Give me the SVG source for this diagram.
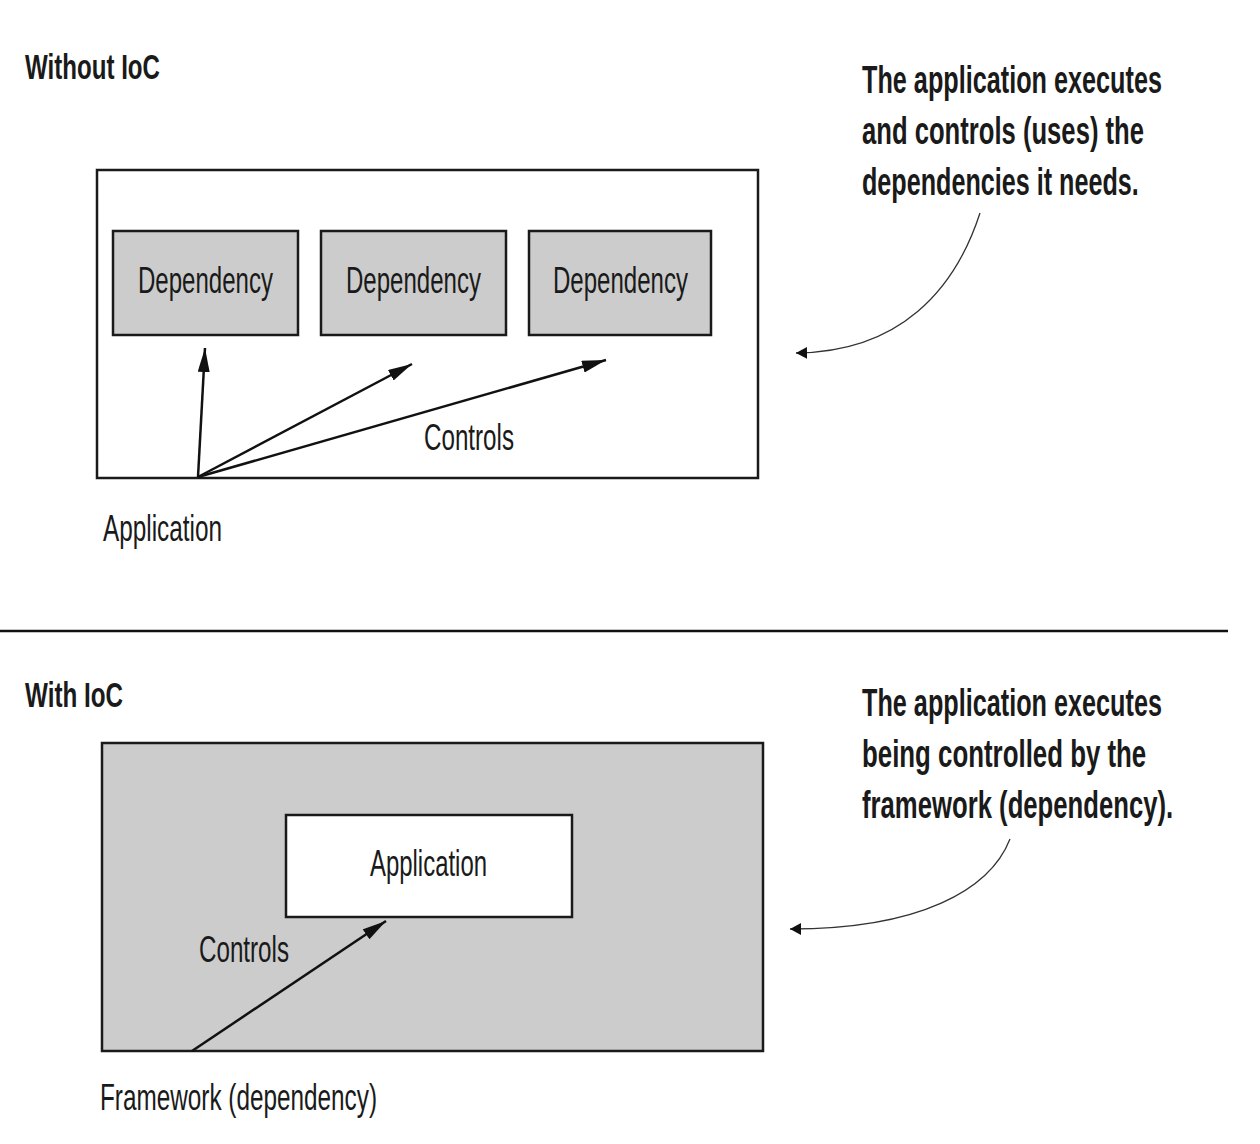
<svg xmlns="http://www.w3.org/2000/svg" width="1260" height="1144" viewBox="0 0 1260 1144">
<style>
.box{stroke:#1a1a1a;stroke-width:2.5}
.lbl{font-family:"Liberation Sans",Arial,sans-serif;font-size:37px;fill:#1a1a1a}
.hdr{font-family:"Liberation Sans",Arial,sans-serif;font-size:35px;font-weight:bold;fill:#1a1a1a}
.ann{font-family:"Liberation Sans",Arial,sans-serif;font-size:39px;font-weight:bold;fill:#1a1a1a}
.ctl{stroke:#111;stroke-width:2.5;fill:none}
.cur{stroke:#333;stroke-width:1.3;fill:none}
</style>
<defs>
<marker id="ah" markerUnits="userSpaceOnUse" markerWidth="26" markerHeight="14" refX="24" refY="6" orient="auto">
<path d="M0,0 L24,6 L0,12 Z" fill="#111"/>
</marker>
<marker id="ahs" markerUnits="userSpaceOnUse" markerWidth="14" markerHeight="14" refX="11" refY="6" orient="auto">
<path d="M0,0 L11,6 L0,12 Z" fill="#111"/>
</marker>
</defs>
<rect width="1260" height="1144" fill="#fff"/>

<text class="hdr" x="25" y="79" textLength="135" lengthAdjust="spacingAndGlyphs">Without IoC</text>

<g id="app-top">
<rect class="box" x="97" y="170" width="661" height="308" fill="#fff"/>
</g>
<g id="dep1">
<rect class="box" x="113" y="231" width="185" height="104" fill="#cccccc"/>
<text class="lbl" x="138" y="293" textLength="135" lengthAdjust="spacingAndGlyphs">Dependency</text>
</g>
<g id="dep2">
<rect class="box" x="321" y="231" width="185" height="104" fill="#cccccc"/>
<text class="lbl" x="346" y="293" textLength="135" lengthAdjust="spacingAndGlyphs">Dependency</text>
</g>
<g id="dep3">
<rect class="box" x="529" y="231" width="182" height="104" fill="#cccccc"/>
<text class="lbl" x="553" y="293" textLength="135" lengthAdjust="spacingAndGlyphs">Dependency</text>
</g>
<text class="lbl" x="424" y="450" textLength="90" lengthAdjust="spacingAndGlyphs">Controls</text>
<text class="lbl" x="103" y="541" textLength="119" lengthAdjust="spacingAndGlyphs">Application</text>

<g id="note-top" transform="translate(862,0) scale(0.75,1)">
<text class="ann" x="0" y="93" textLength="400" lengthAdjust="spacingAndGlyphs">The application executes</text>
<text class="ann" x="0" y="144" textLength="376" lengthAdjust="spacingAndGlyphs">and controls (uses) the</text>
<text class="ann" x="0" y="195" textLength="369" lengthAdjust="spacingAndGlyphs">dependencies it needs.</text>
</g>

<line x1="0" y1="631" x2="1228" y2="631" stroke="#111" stroke-width="2.5"/>

<text class="hdr" x="25" y="707" textLength="98" lengthAdjust="spacingAndGlyphs">With IoC</text>

<g id="framework">
<rect class="box" x="102" y="743" width="661" height="308" fill="#cccccc"/>
</g>
<g id="app-bottom">
<rect class="box" x="286" y="815" width="286" height="102" fill="#fff"/>
<text class="lbl" x="370" y="876" textLength="117" lengthAdjust="spacingAndGlyphs">Application</text>
</g>
<text class="lbl" x="199" y="962" textLength="90" lengthAdjust="spacingAndGlyphs">Controls</text>
<text class="lbl" x="100" y="1110" textLength="277" lengthAdjust="spacingAndGlyphs">Framework (dependency)</text>

<g id="note-bottom" transform="translate(862,0) scale(0.75,1)">
<text class="ann" x="0" y="716" textLength="400" lengthAdjust="spacingAndGlyphs">The application executes</text>
<text class="ann" x="0" y="767" textLength="379" lengthAdjust="spacingAndGlyphs">being controlled by the</text>
<text class="ann" x="0" y="818" textLength="415" lengthAdjust="spacingAndGlyphs">framework (dependency).</text>
</g>

<g id="connectors">
<line class="ctl" x1="198" y1="477" x2="205" y2="348" marker-end="url(#ah)"/>
<line class="ctl" x1="198" y1="477" x2="412" y2="364" marker-end="url(#ah)"/>
<line class="ctl" x1="198" y1="477" x2="606" y2="360" marker-end="url(#ah)"/>
<line class="ctl" x1="192" y1="1051" x2="386" y2="921" marker-end="url(#ah)"/>
<path class="cur" d="M980,213 C955,290 900,352 796,353" marker-end="url(#ahs)"/>
<path class="cur" d="M1010,839 C990,890 920,929 790,929" marker-end="url(#ahs)"/>
</g>
</svg>
